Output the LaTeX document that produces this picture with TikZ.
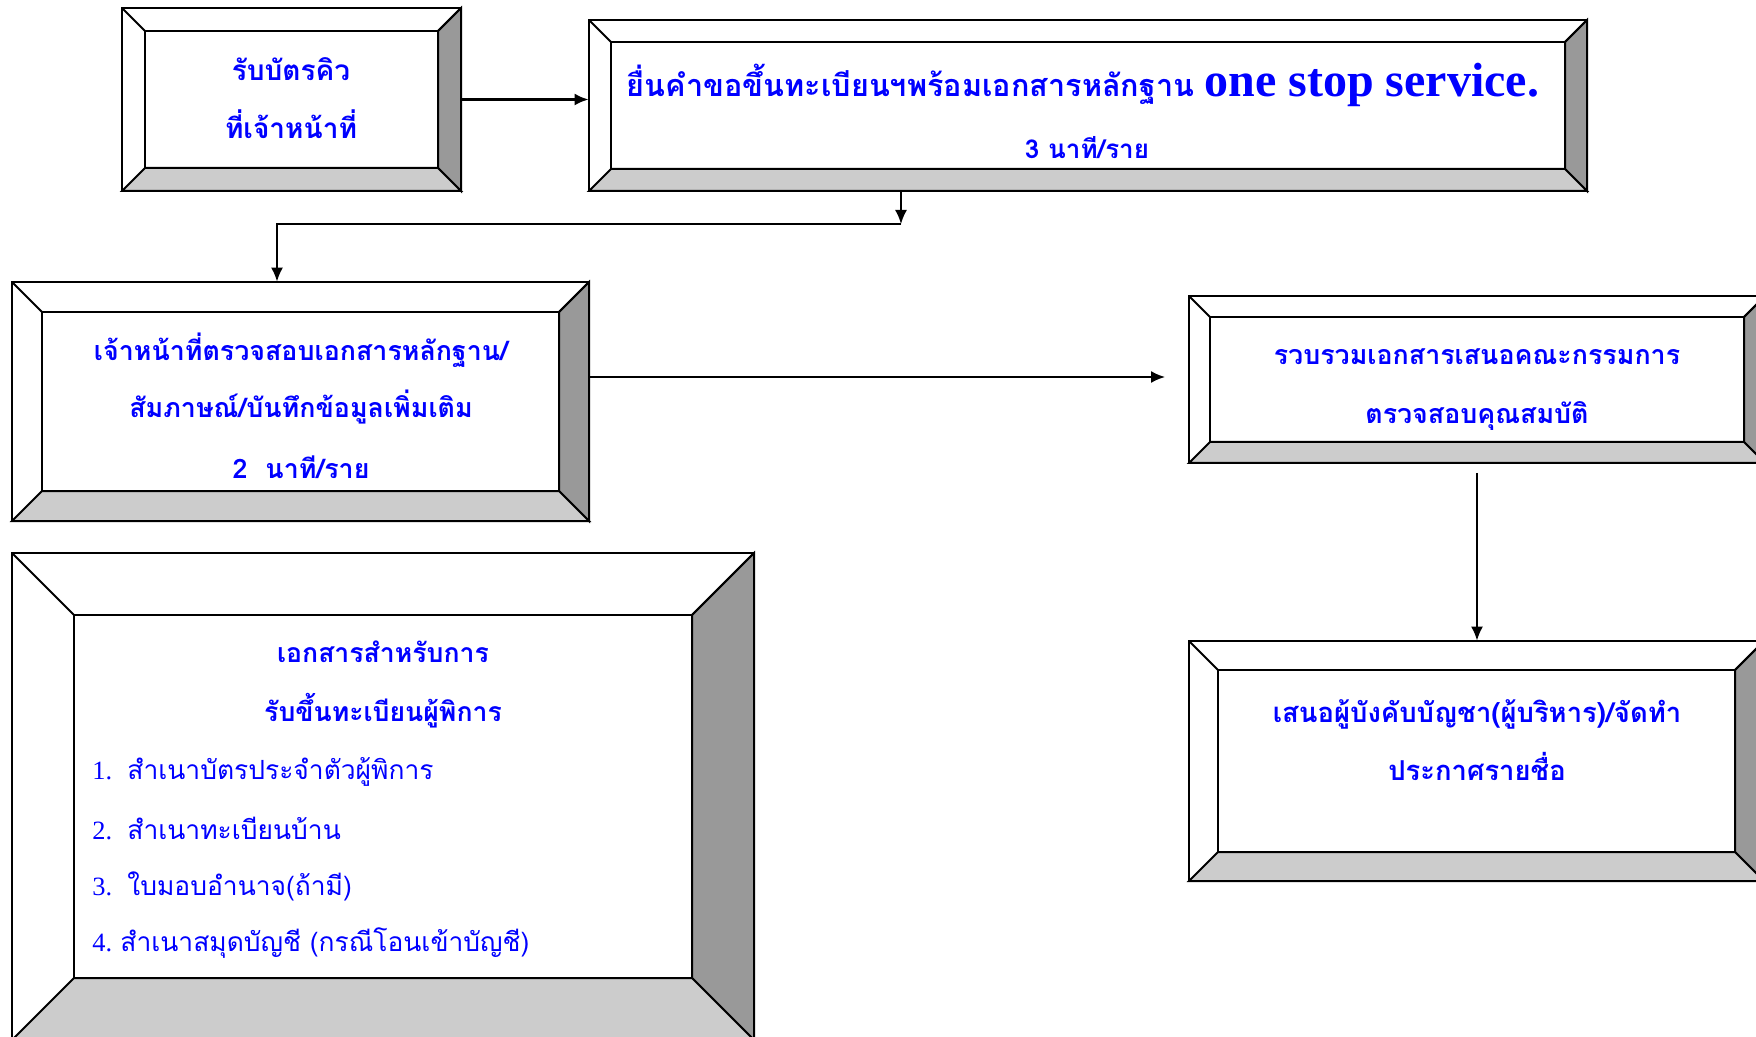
\documentclass[tikz,border=0pt]{standalone}
\usepackage{fontspec}
\setmainfont{Liberation Serif}
\newfontfamily\thaifont[Script=Thai]{Loma}
\usetikzlibrary{positioning,fit,calc,arrows.meta}
\definecolor{bevelgray}{HTML}{999999}
\definecolor{bevellight}{HTML}{CCCCCC}
\newcommand{\thaib}{\thaifont\bfseries}
\tikzset{bevel/.style={draw,line width=1pt},
         line/.style={-{Latex[length=7pt,width=6pt]},line width=0.9pt},
         boxtext/.style={text=blue,align=center,inner sep=0pt},
         listtext/.style={text=blue,align=left,anchor=west,inner sep=0pt}
}
% bevelled box: name, outer corners, bevel width
\newcommand{\bevelbox}[6]{%
  \draw[bevel,fill=white] (#2,#3) rectangle (#4,#5);
  \draw[bevel,fill=bevelgray] (#4,#3) -- (#4,#5) -- (#4-#6,#5-#6) -- (#4-#6,#3+#6) -- cycle;
  \draw[bevel,fill=bevellight] (#2,#5) -- (#4,#5) -- (#4-#6,#5-#6) -- (#2+#6,#5-#6) -- cycle;
  \draw[bevel] (#2,#3) -- (#2+#6,#3+#6) (#4,#3) -- (#4-#6,#3+#6);
  \draw[bevel] (#2+#6,#3+#6) rectangle (#4-#6,#5-#6);
  \node[fit={(#2,#3) (#4,#5)},inner sep=0pt] (#1) {};
}

\begin{document}
\begin{tikzpicture}[x=0.5pt,y=0.5pt,yscale=-1,xscale=1]
\useasboundingbox (0,0) rectangle (1756,1037);

%Bevel boxes
\bevelbox{queue}{122}{8}{461}{191}{23}
\bevelbox{submit}{589}{20}{1587}{191}{22}
\bevelbox{check}{12}{282}{589}{521}{30}
\bevelbox{collect}{1189}{296}{1765}{463}{21}
\bevelbox{approve}{1189}{641}{1764}{881}{29}
\bevelbox{docs}{12}{553}{754}{1040}{62}

%Connector coordinates
\coordinate (split) at (901,224);
\coordinate (turn) at (277,224);
\coordinate (gapend) at (1165,377);
\coordinate (gapstart) at (1477,473);

%Connectors
\draw[line,line width=1.2pt] (queue.east) -- (queue.east -| submit.west);
\draw[line] (submit.south -| split) -- (split);
\draw[line] (split) -- (turn) -- (turn |- check.north);
\draw[line] (check.east |- gapend) -- (gapend);
\draw[line] (gapstart) -- (gapstart |- approve.north);

% Text Node
\node[boxtext,font=\thaib\fontsize{14}{29}\selectfont] (queuetext) at (291,98) {รับบัตรคิว\\ที่เจ้าหน้าที่};
% Text Node
\node[boxtext,font=\thaib\fontsize{15.3}{31}\selectfont] (submittext) at (1083,85) {ยื่นคำขอขึ้นทะเบียนฯพร้อมเอกสารหลักฐาน {\rmfamily\fontsize{24}{31}\selectfont one stop service.}};
% Text Node
\node[boxtext,font=\thaib\fontsize{13}{31}\selectfont] (submittime) at (1087,148) {3 นาที/ราย};
% Text Node
\node[boxtext,font=\thaib\fontsize{13.4}{28.5}\selectfont] (checktext) at (301,406) {เจ้าหน้าที่ตรวจสอบเอกสารหลักฐาน/\\สัมภาษณ์/บันทึกข้อมูลเพิ่มเติม\\[2.2pt]2\ \ นาที/ราย};
% Text Node
\node[boxtext,font=\thaib\fontsize{13.4}{29.5}\selectfont] (collecttext) at (1477,390) {รวบรวมเอกสารเสนอคณะกรรมการ\\ตรวจสอบคุณสมบัติ};
% Text Node
\node[boxtext,font=\thaib\fontsize{13.7}{29}\selectfont] (approvetext) at (1477,740) {เสนอผู้บังคับบัญชา(ผู้บริหาร)/จัดทำ\\ประกาศรายชื่อ};
% Text Node
\node[boxtext,font=\thaib\fontsize{13.3}{29.5}\selectfont] (docstitle) at (383,684) {เอกสารสำหรับการ\\รับขึ้นทะเบียนผู้พิการ};
% Text Node
\node[listtext,font=\thaifont\fontsize{13.2}{28}\selectfont] (item1) at (92,772) {\makebox[17.5pt][l]{\rmfamily 1.}สำเนาบัตรประจำตัวผู้พิการ};
\node[listtext,font=\thaifont\fontsize{13.2}{28}\selectfont] (item2) at (92,828) {\makebox[17.5pt][l]{\rmfamily 2.}สำเนาทะเบียนบ้าน};
\node[listtext,font=\thaifont\fontsize{13.2}{28}\selectfont] (item3) at (92,886) {\makebox[17.5pt][l]{\rmfamily 3.}ใบมอบอำนาจ(ถ้ามี)};
\node[listtext,font=\thaifont\fontsize{13.2}{28}\selectfont] (item4) at (92,943) {\makebox[14pt][l]{\rmfamily 4.}สำเนาสมุดบัญชี (กรณีโอนเข้าบัญชี)};

\end{tikzpicture}
\end{document}
